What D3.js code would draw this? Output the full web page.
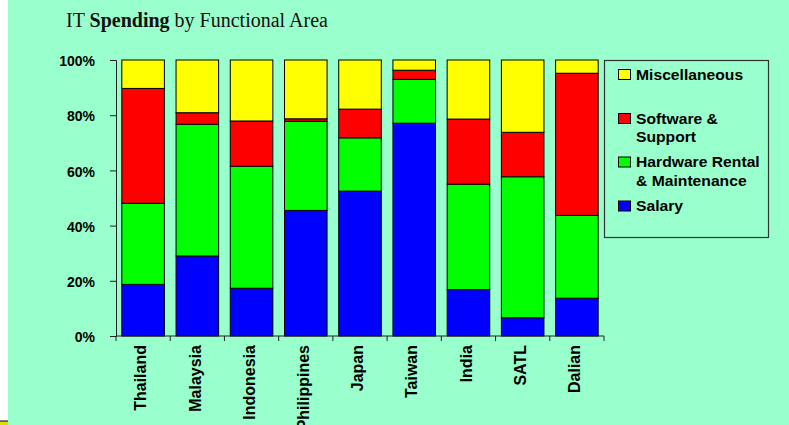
<!DOCTYPE html>
<html>
<head>
<meta charset="utf-8">
<script src="https://cdn.jsdelivr.net/npm/d3@7"></script>
<style>
  html, body { margin: 0; padding: 0; background: #ffffff; }
  svg { display: block; }
</style>
</head>
<body>
<svg id="chart" width="789" height="425"></svg>
<script>
// Regions
const categories = ["Thailand", "Malaysia", "Indonesia", "Philippines", "Japan", "Taiwan", "India", "SATL", "Dalian"];

// Share of IT spending per functional area (percent of total)
const salary   = [18.7, 29.0, 17.3, 45.5, 52.5, 77.1, 16.8,  6.6, 13.7];
const hardware = [29.4, 47.7, 44.2, 32.3, 19.3, 15.9, 38.2, 51.1, 30.0];
const software = [41.6,  4.2, 16.4,  0.9, 10.4,  3.3, 23.6, 16.1, 51.5];
const misc     = [10.3, 19.1, 22.1, 21.3, 17.8,  3.7, 21.4, 26.2,  4.8];

// Series, bottom of the stack first
const seriesKeys   = ["Salary", "Hardware", "Software", "Misc"];
const seriesValues = [salary, hardware, software, misc];
const seriesColors = ["#0000ff", "#00ff00", "#ff0000", "#ffff00"];

// Legend entries, top to bottom (each entry may wrap onto two lines)
const legendKeys   = ["Misc", "Software", "Hardware", "Salary"];
const legendLabels = [["Miscellaneous"], ["Software &", "Support"], ["Hardware Rental", "& Maintenance"], ["Salary"]];

const yTicks = [0, 20, 40, 60, 80, 100];

const svg = d3.select("#chart");
const W = 789, H = 425;

// Slide background with a narrow white margin on the left
svg.append("rect").attr("x", 8).attr("y", 0).attr("width", W - 8).attr("height", H).attr("fill", "#99ffcc");
svg.append("rect").attr("x", 0).attr("y", 421).attr("width", 8).attr("height", 4).attr("fill", "#dede00");
svg.append("line").attr("x1", 0).attr("x2", 8).attr("y1", 421).attr("y2", 421).attr("stroke", "#000").attr("stroke-width", 1);

// Title
const title = svg.append("text")
  .attr("x", 66).attr("y", 27)
  .attr("font-family", "'Liberation Serif', 'Times New Roman', serif")
  .attr("font-size", 20)
  .attr("fill", "#111");
title.append("tspan").text("IT ");
title.append("tspan").attr("font-weight", "bold").text("Spending");
title.append("tspan").text(" by Functional Area");

// Plot area
const plotLeft = 116, plotRight = 604, plotTop = 60, plotBottom = 336;

const x = d3.scaleBand().domain(categories).range([plotLeft, plotRight])
  .paddingInner(0.215).paddingOuter(0.1075);
const y = d3.scaleLinear().domain([0, 100]).range([plotBottom, plotTop]);

// Build a table for the stack layout
const table = categories.map((c, i) => {
  const row = { category: c };
  seriesKeys.forEach((k, j) => { row[k] = seriesValues[j][i]; });
  return row;
});
const stacked = d3.stack().keys(seriesKeys)(table);
const colorOf = d3.scaleOrdinal().domain(seriesKeys).range(seriesColors);

svg.append("g").selectAll("g")
  .data(stacked)
  .join("g")
    .attr("fill", d => colorOf(d.key))
  .selectAll("rect")
  .data(d => d)
  .join("rect")
    .attr("x", d => x(d.data.category))
    .attr("width", x.bandwidth())
    .attr("y", d => y(d[1]))
    .attr("height", d => y(d[0]) - y(d[1]))
    .attr("stroke", "#000")
    .attr("stroke-width", 1);

// Y axis
const yAxis = d3.axisLeft(y)
  .tickValues(yTicks)
  .tickFormat(d => d + "%")
  .tickSize(6)
  .tickPadding(15);
const gy = svg.append("g").attr("transform", `translate(${plotLeft},0)`).call(yAxis);
gy.select(".domain").attr("stroke", "#222");
gy.selectAll(".tick line").attr("stroke", "#222");
gy.selectAll(".tick text")
  .attr("font-family", "'Liberation Sans', Arial, sans-serif")
  .attr("font-weight", "bold")
  .attr("font-size", 14)
  .attr("fill", "#000")
  .attr("dy", "0.4em");

// X axis: baseline with tick marks at category boundaries
const step = x.step();
const boundaries = categories.map(c => x(c) - step * x.paddingInner() / 2).concat([plotRight]);
const gx = svg.append("g");
gx.append("line")
  .attr("x1", plotLeft).attr("x2", plotRight)
  .attr("y1", plotBottom).attr("y2", plotBottom)
  .attr("stroke", "#222");
gx.selectAll("line.tick")
  .data(boundaries)
  .join("line")
    .attr("class", "tick")
    .attr("x1", d => d).attr("x2", d => d)
    .attr("y1", plotBottom).attr("y2", plotBottom + 5)
    .attr("stroke", "#222");
gx.selectAll("text")
  .data(categories)
  .join("text")
    .attr("transform", d => `translate(${x(d) + x.bandwidth() / 2},345) rotate(-90)`)
    .attr("text-anchor", "end")
    .attr("dy", "0.2em")
    .attr("font-family", "'Liberation Sans', Arial, sans-serif")
    .attr("font-weight", "bold")
    .attr("font-size", 16)
    .attr("fill", "#000")
    .text(d => d);

// Legend
const legend = svg.append("g");
legend.append("rect")
  .attr("x", 604.5).attr("y", 60.5)
  .attr("width", 164).attr("height", 177)
  .attr("fill", "none")
  .attr("stroke", "#333")
  .attr("stroke-width", 1.2);

const entryTop = [69.5, 113.5, 157, 201];
legendKeys.forEach((k, i) => {
  const g = legend.append("g");
  g.append("rect")
    .attr("x", 618.5).attr("y", entryTop[i])
    .attr("width", 12).attr("height", 10)
    .attr("fill", colorOf(k))
    .attr("stroke", "#000").attr("stroke-width", 1);
  legendLabels[i].forEach((line, j) => {
    g.append("text")
      .attr("transform", `translate(636,${entryTop[i] + 10 + j * 18.5}) scale(1.12,1)`)
      .attr("font-family", "'Liberation Sans', Arial, sans-serif")
      .attr("font-weight", "bold")
      .attr("font-size", 14)
      .attr("fill", "#000")
      .text(line);
  });
});
</script>
</body>
</html>
